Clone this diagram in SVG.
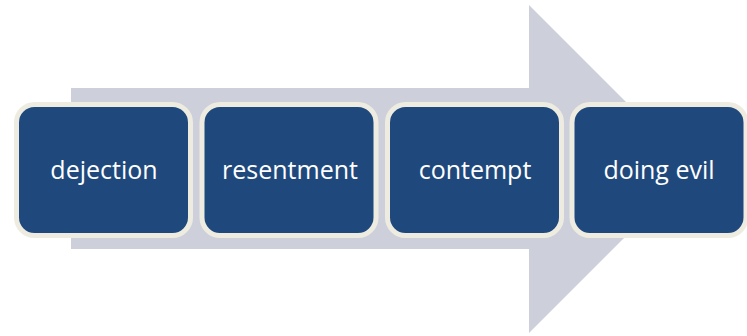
<svg xmlns="http://www.w3.org/2000/svg" width="747" height="336" viewBox="0 0 747 336">
<style>
.box{fill:#1F497D;stroke:#EEECE1;stroke-width:5}
.lbl{fill:#FFFFFF;font-family:"Open Sans","Noto Sans",sans-serif;font-size:25px;text-anchor:middle;dominant-baseline:central}
</style>
<rect width="747" height="336" fill="#FFFFFF"/>
<g id="connectors">
<polygon id="arrow" points="71,88 529,88 529,5 693,169 529,333 529,249 71,249" fill="#CDD0DA"/>
</g>
<g id="node-dejection">
<rect class="box" x="16.5" y="104.5" width="174" height="131" rx="18"/>
<text class="lbl" x="104" y="169">dejection</text>
</g>
<g id="node-resentment">
<rect class="box" x="202" y="104.5" width="174" height="131" rx="18"/>
<text class="lbl" x="290" y="169">resentment</text>
</g>
<g id="node-contempt">
<rect class="box" x="387.5" y="104.5" width="174" height="131" rx="18"/>
<text class="lbl" x="475" y="169">contempt</text>
</g>
<g id="node-doing-evil">
<rect class="box" x="572" y="104.5" width="174" height="131" rx="18"/>
<text class="lbl" x="659" y="169">doing evil</text>
</g>
</svg>
